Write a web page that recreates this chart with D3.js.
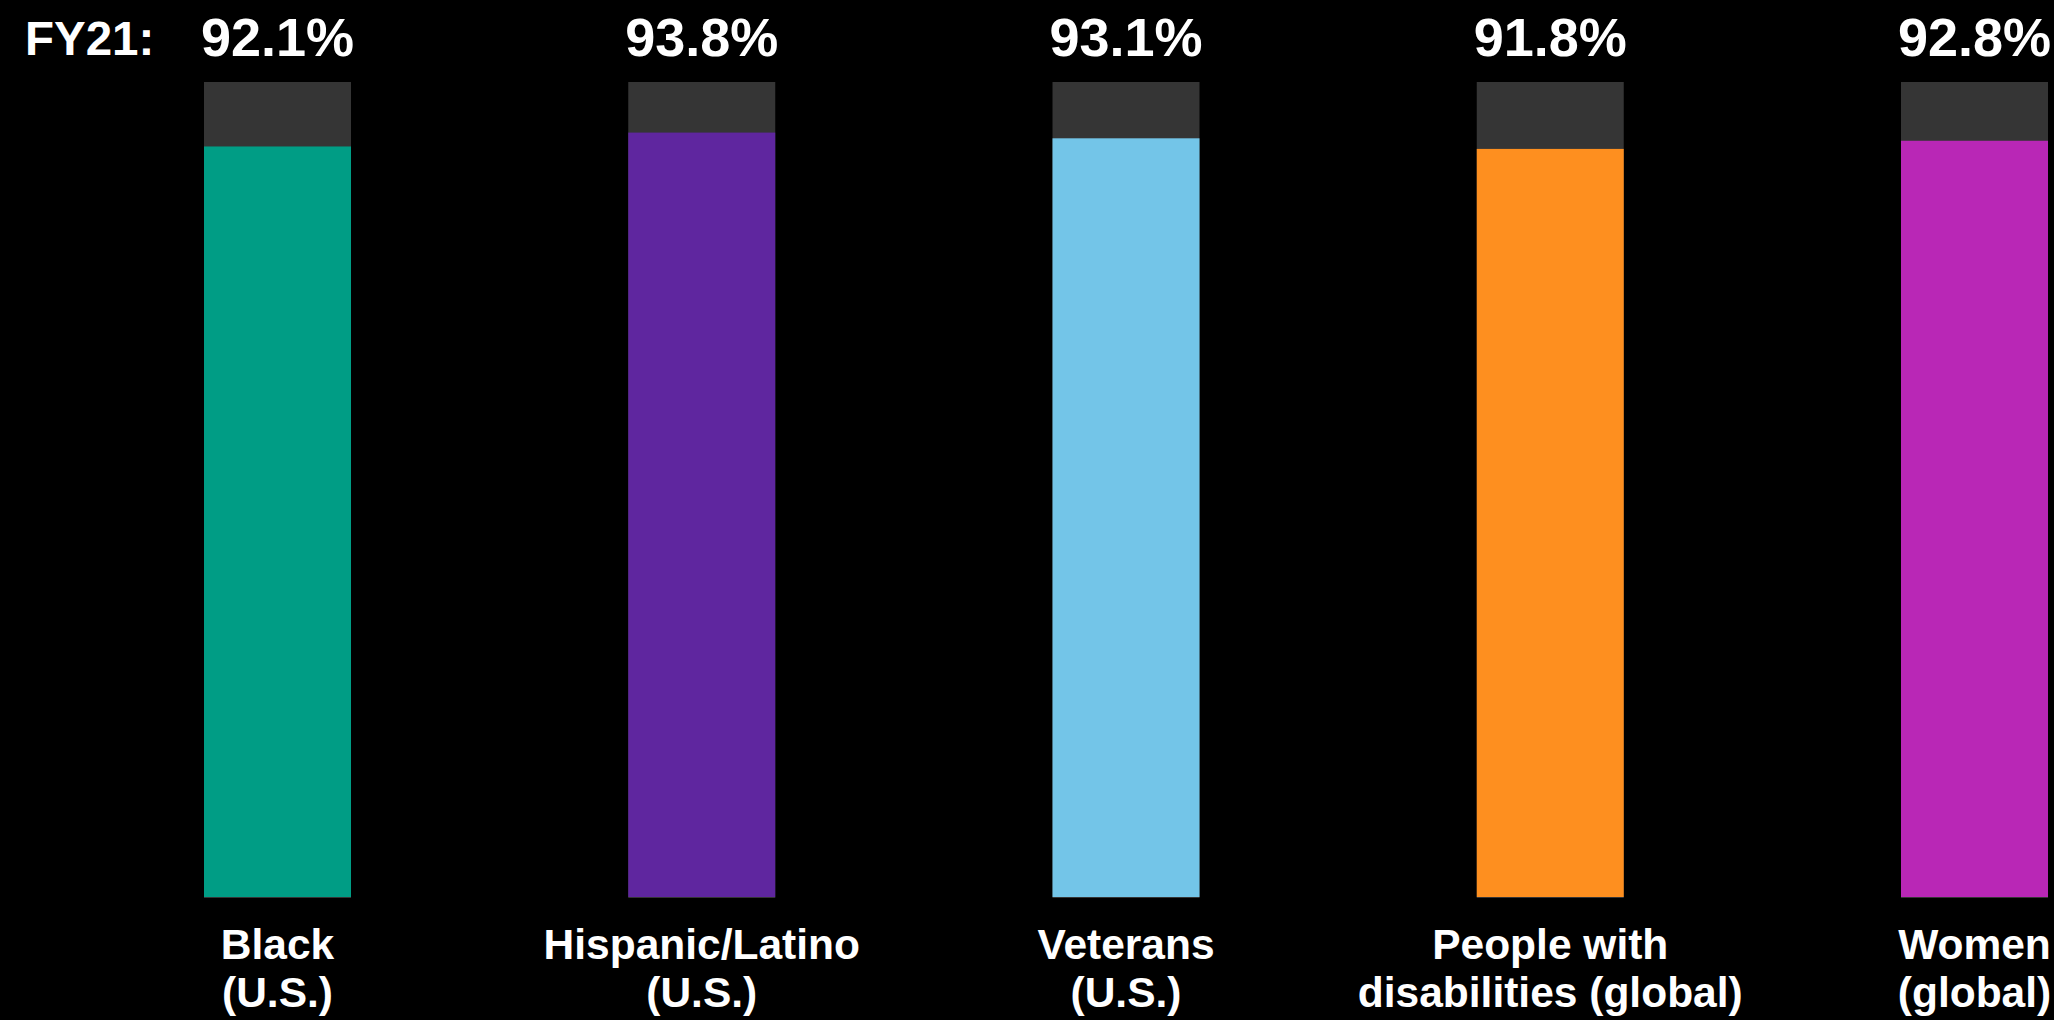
<!DOCTYPE html>
<html lang="en">
  <head>
    <meta charset="utf-8">
    <title>FY21</title>
    <script src="https://cdn.jsdelivr.net/npm/d3@7"></script>
    <style>
      body { margin: 0; background: #000; overflow: hidden; }
      text { font-family: "Liberation Sans", Arial, Helvetica, sans-serif; font-weight: bold; fill: #fff; }
    </style>
  </head>
  <body>
    <svg id="chart" width="2054" height="1020"></svg>
  <script>
  // data
  var groups  = ["Black", "Hispanic/Latino", "Veterans", "People with", "Women"]
  var groups2 = ["(U.S.)", "(U.S.)", "(U.S.)", "disabilities (global)", "(global)"]
  var values  = [92.1, 93.8, 93.1, 91.8, 92.8]
  var colors  = ["#009d85", "#5f269f", "#73c5e8", "#fe8f1f", "#b927b6"]
  var yearLabel = "FY21:"

  var data = groups.map((g, i) => ({ key: g, line2: groups2[i], value: values[i], color: colors[i] }))

  var svg = d3.select("#chart")

  svg.append("rect")
      .attr("width", 2054).attr("height", 1020).attr("fill", "#000")

  var x = d3.scaleBand()
      .domain(groups)
      .range([204, 2048])
      .paddingInner(0.6535)
      .paddingOuter(0)

  var y = d3.scaleLinear()
      .domain([0, 100])
      .range([898, 82])

  // grey track (full 100%)
  svg.selectAll(".track")
      .data(data)
      .enter().append("rect")
      .attr("class", "track")
      .attr("x", d => x(d.key))
      .attr("width", x.bandwidth())
      .attr("y", y(100))
      .attr("height", y(0) - y(100))
      .attr("fill", "#353535")

  // value bars
  svg.selectAll(".bar")
      .data(data)
      .enter().append("rect")
      .attr("class", "bar")
      .attr("x", d => x(d.key))
      .attr("width", x.bandwidth())
      .attr("y", d => y(d.value))
      .attr("height", d => y(0) - y(d.value) - 1)
      .attr("fill", d => d.color)

  // value labels
  svg.selectAll(".val")
      .data(data)
      .enter().append("text")
      .attr("class", "val")
      .attr("x", d => x(d.key) + x.bandwidth() / 2)
      .attr("y", 56)
      .attr("text-anchor", "middle")
      .style("font-size", "54px")
      .text(d => d.value.toFixed(1) + "%")

  svg.append("text")
      .attr("x", 25)
      .attr("y", 55)
      .style("font-size", "47.5px")
      .text(yearLabel)

  // category labels, two lines
  var cat = svg.selectAll(".cat")
      .data(data)
      .enter().append("text")
      .attr("class", "cat")
      .attr("text-anchor", "middle")
      .style("font-size", "42.5px")

  cat.append("tspan")
      .attr("x", d => x(d.key) + x.bandwidth() / 2)
      .attr("y", 959)
      .text(d => d.key)

  cat.append("tspan")
      .attr("x", d => x(d.key) + x.bandwidth() / 2)
      .attr("y", 1007)
      .text(d => d.line2)
  </script>
  </body>
</html>
